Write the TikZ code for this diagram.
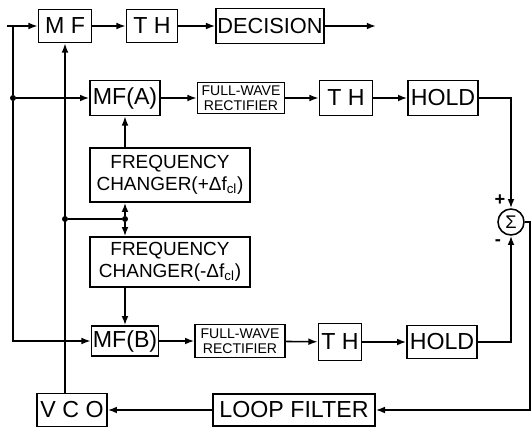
\documentclass[tikz,border=0pt]{standalone}
\usepackage{fontspec}
\setmainfont{Liberation Sans}
\usepackage{tikz}
\usetikzlibrary{arrows.meta,positioning}

\begin{document}
\begin{tikzpicture}[
  x=0.025cm, y=-0.025cm,
  block/.style = {rectangle, draw, line width=1.1pt, inner sep=1pt,
                  align=center, font=\fontsize{16.5}{17}\selectfont},
  tiny/.style  = {font=\fontsize{10}{10.5}\selectfont},
  mid/.style   = {font=\fontsize{13.5}{16}\selectfont},
  arr/.style   = {-{Latex[length=2.3mm,width=1.7mm]}, line width=1.1pt},
  wire/.style  = {line width=1.1pt},
  dot/.style   = {circle, fill, inner sep=0pt, minimum size=1.5mm},
]
  \useasboundingbox (0,0) rectangle (532,429);

  \node[block, minimum width=1.33cm, minimum height=0.83cm] (mf)  at (65,26)  {M F};
  \node[block, minimum width=1.28cm, minimum height=0.83cm] (th)  at (152,26) {T H};
  \node[block, minimum width=2.63cm, minimum height=0.88cm,
        font=\fontsize{15.5}{16}\selectfont] (dec) at (270,26) {DECISION};

  \node[block, minimum width=1.75cm, minimum height=0.88cm] (mfa)   at (125,98) {MF(A)};
  \node[block, tiny, minimum width=2.18cm, minimum height=0.78cm] (fwra) at (241,98) {FULL-WAVE\\RECTIFIER};
  \node[block, minimum width=1.33cm, minimum height=0.88cm] (tha)   at (346,98) {T H};
  \node[block, minimum width=1.75cm, minimum height=0.88cm] (holda) at (443,98) {HOLD};

  \node[block, mid, minimum width=4cm, minimum height=1.35cm] (fcp) at (170,175)
    {FREQUENCY\\CHANGER(+Δf\textsubscript{cl})};
  \node[block, mid, minimum width=4cm, minimum height=1.25cm] (fcm) at (170,262)
    {FREQUENCY\\CHANGER(-Δf\textsubscript{cl})};

  \node[block, minimum width=1.68cm, minimum height=0.75cm] (mfb)   at (125,341) {MF(B)};
  \node[block, tiny, minimum width=2.25cm, minimum height=0.83cm] (fwrb) at (240,341) {FULL-WAVE\\RECTIFIER};
  \node[block, minimum width=1.08cm, minimum height=0.93cm] (thb)   at (340,342) {T H};
  \node[block, minimum width=1.75cm, minimum height=0.83cm] (holdb) at (442,342) {HOLD};

  \node[circle, draw, line width=1.1pt, inner sep=0pt, minimum size=0.65cm,
        font=\fontsize{13}{13}\selectfont] (sum) at (511,222) {Σ};
  \node[font=\bfseries\fontsize{13}{13}\selectfont] (plus)  at (500,200) {+};
  \node[font=\bfseries\fontsize{13}{13}\selectfont] (minus) at (498,243) {-};

  \node[block, minimum width=1.75cm, minimum height=0.83cm] (vco) at (72,410)  {V C O};
  \node[block, minimum width=4.05cm, minimum height=0.8cm]  (lf)  at (294,410) {LOOP FILTER};

  \coordinate (in)  at (7,26);
  \coordinate (tl)  at (13,26);
  \coordinate (out) at (376,26);
  \coordinate (fb)  at (530,410);
  \node[dot] (da) at (13,98) {};
  \node[dot] (df) at (65,219) {};
  \node[dot] (jn) at (125,219) {};

  \draw[arr] (in)  -- (mf);
  \draw[arr] (mf)  -- (th);
  \draw[arr] (th)  -- (dec);
  \draw[arr] (dec) -- (out);

  \draw[wire] (tl) -- (da);
  \draw[arr] (da) -- (mfa);
  \draw[arr] (da) |- (mfb);

  \draw[arr] (mfa)  -- (fwra);
  \draw[arr] (fwra) -- (tha);
  \draw[arr] (tha)  -- (holda);
  \draw[arr] (holda) -| (sum.north);

  \draw[arr] (mfb)  -- (fwrb);
  \draw[arr] (fwrb) -- (thb);
  \draw[arr] (thb)  -- (holdb);
  \draw[arr] (holdb) -| (sum.south);

  \draw[arr] (sum.east) -| (fb) -- (lf.east);
  \draw[arr] (lf) -- (vco);
  \draw[arr] (vco.north -| mf.south) -- (mf.south);

  \draw[wire] (df) -- (jn);
  \draw[arr] (jn) -- (jn |- fcp.south);
  \draw[arr] (jn) -- (jn |- fcm.north);
  \draw[arr] (mfa.south |- fcp.north) -- (mfa.south);
  \draw[arr] (mfb.north |- fcm.south) -- (mfb.north);
\end{tikzpicture}
\end{document}
